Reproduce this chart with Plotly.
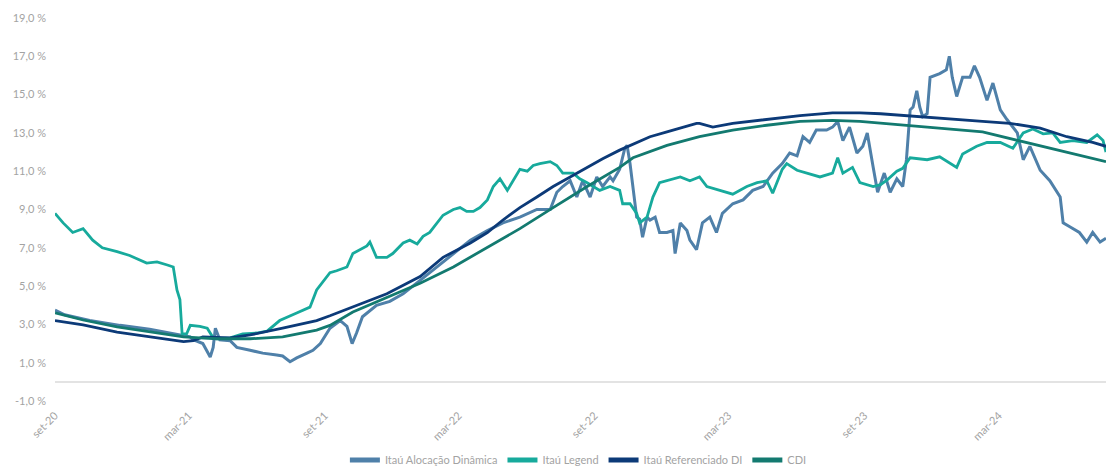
import plotly.graph_objects as go

# ---------------- data (12-month returns, %) ----------------
aloc_dates = ["2020-09-01","2020-09-14","2020-10-18","2020-11-28","2021-01-07","2021-02-10","2021-03-03","2021-03-07",
    "2021-03-20","2021-03-30","2021-04-03","2021-04-06","2021-04-12","2021-04-26","2021-05-05","2021-05-23","2021-06-09",
    "2021-06-28","2021-07-06","2021-07-16","2021-07-25","2021-08-08","2021-08-16","2021-08-26","2021-09-08","2021-09-22",
    "2021-10-01","2021-10-08","2021-10-14","2021-10-22","2021-11-10","2021-11-28","2021-12-16","2022-01-08","2022-01-31",
    "2022-02-22","2022-03-17","2022-04-09","2022-04-30","2022-05-23","2022-06-15","2022-07-03","2022-07-12","2022-07-20",
    "2022-07-30","2022-08-08","2022-08-16","2022-08-26","2022-09-04","2022-09-12","2022-09-22","2022-09-26","2022-10-05",
    "2022-10-12","2022-10-15","2022-10-19","2022-10-23","2022-10-28","2022-11-01","2022-11-05","2022-11-11","2022-11-15",
    "2022-11-22","2022-11-28","2022-12-08","2022-12-16","2022-12-19","2022-12-26","2023-01-04","2023-01-08","2023-01-17",
    "2023-01-25","2023-02-04","2023-02-13","2023-02-21","2023-03-07","2023-03-21","2023-04-03","2023-04-17","2023-04-30",
    "2023-05-13","2023-05-23","2023-06-02","2023-06-10","2023-06-19","2023-06-28","2023-07-12","2023-07-20","2023-07-27",
    "2023-08-03","2023-08-12","2023-08-22","2023-08-30","2023-09-05","2023-09-13","2023-09-19","2023-09-28","2023-10-06",
    "2023-10-15","2023-10-23","2023-10-28","2023-11-02","2023-11-06","2023-11-11","2023-11-15","2023-11-19","2023-11-25",
    "2023-11-29","2023-12-12","2023-12-21","2023-12-25","2023-12-29","2024-01-04","2024-01-12","2024-01-22","2024-01-28",
    "2024-02-04","2024-02-14","2024-02-22","2024-03-03","2024-03-12","2024-03-26","2024-04-03","2024-04-12","2024-04-26",
    "2024-05-09","2024-05-23","2024-05-27","2024-06-05","2024-06-18","2024-06-28","2024-07-06","2024-07-16","2024-07-24"]
aloc_vals = [3.75,3.5,3.2,2.95,2.75,2.5,2.35,2.2,
    2.0,1.3,1.8,2.8,2.2,2.15,1.8,1.65,1.5,
    1.4,1.35,1.05,1.25,1.5,1.65,2.0,2.8,3.2,
    2.9,2.0,2.55,3.4,4.0,4.2,4.6,5.3,6.0,
    6.7,7.4,7.9,8.3,8.6,9.0,9.0,9.9,10.2,
    10.5,9.65,10.5,9.65,10.7,10.2,10.7,10.5,11.1,
    12.2,12.35,11.4,10.0,8.6,8.5,7.55,8.6,8.45,
    8.6,7.8,7.8,7.9,6.7,8.3,7.9,7.4,6.9,
    8.3,8.6,7.8,8.8,9.3,9.5,10.0,10.2,10.9,
    11.4,11.95,11.8,12.8,12.5,13.15,13.15,13.3,13.6,
    12.6,13.3,11.95,12.3,13.0,11.2,9.9,10.9,9.9,
    10.6,10.2,11.6,14.2,14.35,15.2,14.35,13.85,14.0,
    15.9,16.1,16.3,17.0,15.9,14.9,15.9,15.9,16.5,
    15.9,14.7,15.6,14.2,13.7,13.0,11.6,12.3,11.05,
    10.5,9.65,8.3,8.1,7.8,7.3,7.8,7.3,7.5]

legend_dates = ["2020-09-01","2020-09-12","2020-09-25","2020-10-09","2020-10-22","2020-11-04","2020-11-24","2020-12-11",
    "2021-01-03","2021-01-17","2021-01-31","2021-02-08","2021-02-13","2021-02-17","2021-02-20","2021-02-26","2021-03-03",
    "2021-03-16","2021-03-26","2021-04-03","2021-04-08","2021-04-26","2021-05-13","2021-06-01","2021-06-15","2021-07-02",
    "2021-07-25","2021-08-12","2021-08-21","2021-09-08","2021-09-17","2021-10-01","2021-10-09","2021-10-28","2021-11-01",
    "2021-11-10","2021-11-24","2021-12-02","2021-12-16","2021-12-25","2022-01-04","2022-01-12","2022-01-21","2022-01-31",
    "2022-02-08","2022-02-22","2022-03-03","2022-03-12","2022-03-21","2022-03-30","2022-04-09","2022-04-17","2022-04-26",
    "2022-05-06","2022-05-14","2022-05-23","2022-06-02","2022-06-10","2022-06-19","2022-07-03","2022-07-12","2022-07-20",
    "2022-08-03","2022-08-12","2022-08-22","2022-08-30","2022-09-08","2022-09-22","2022-10-05","2022-10-09","2022-10-19",
    "2022-10-28","2022-11-01","2022-11-11","2022-11-19","2022-11-28","2022-12-08","2022-12-26","2023-01-08","2023-01-21",
    "2023-01-31","2023-02-18","2023-03-07","2023-03-26","2023-04-09","2023-04-22","2023-04-30","2023-05-13","2023-05-19",
    "2023-06-02","2023-06-15","2023-07-03","2023-07-20","2023-07-27","2023-08-03","2023-08-16","2023-08-26","2023-09-13",
    "2023-09-23","2023-10-02","2023-10-15","2023-10-23","2023-11-02","2023-11-25","2023-12-12","2024-01-04","2024-01-12",
    "2024-01-31","2024-02-14","2024-03-03","2024-03-20","2024-04-03","2024-04-16","2024-04-30","2024-05-13","2024-05-23",
    "2024-06-09","2024-06-28","2024-07-12","2024-07-20","2024-07-24"]
legend_vals = [8.8,8.3,7.8,8.0,7.4,7.0,6.8,6.6,
    6.2,6.26,6.1,6.0,4.8,4.3,2.5,2.5,2.95,
    2.9,2.8,2.3,2.25,2.3,2.5,2.55,2.65,3.2,
    3.6,3.9,4.8,5.7,5.8,6.0,6.7,7.1,7.3,
    6.5,6.5,6.7,7.25,7.4,7.2,7.6,7.8,8.3,
    8.7,9.0,9.1,8.9,8.9,9.1,9.5,10.2,10.6,
    10.0,10.5,11.1,11.0,11.3,11.4,11.5,11.3,10.9,
    10.9,10.6,10.4,10.2,10.0,10.2,10.0,9.3,9.3,
    8.8,8.3,8.6,9.65,10.4,10.5,10.7,10.5,10.7,
    10.2,10.0,9.8,10.2,10.4,10.5,9.85,11.1,11.4,
    11.05,10.9,10.7,10.9,11.7,10.9,11.2,10.4,10.2,
    10.3,10.55,11.0,11.15,11.7,11.6,11.75,11.2,11.9,
    12.3,12.5,12.5,12.2,13.0,13.2,12.95,13.0,12.5,
    12.6,12.5,12.9,12.6,12.0]

refdi_dates = ["2020-09-01","2020-10-09","2020-11-24","2021-01-07","2021-02-22","2021-03-07","2021-03-20","2021-04-26",
    "2021-05-23","2021-07-06","2021-08-21","2021-09-08","2021-10-09","2021-11-24","2022-01-08","2022-02-08","2022-03-17",
    "2022-04-09","2022-04-30","2022-05-23","2022-06-15","2022-07-07","2022-07-30","2022-08-22","2022-09-12","2022-10-05",
    "2022-10-23","2022-11-15","2022-12-08","2023-01-17","2023-01-21","2023-02-08","2023-03-07","2023-04-22","2023-06-06",
    "2023-07-20","2023-08-26","2023-09-23","2023-11-25","2024-02-08","2024-03-16","2024-04-26","2024-06-01","2024-07-06",
    "2024-07-24"]
refdi_vals = [3.2,2.97,2.6,2.35,2.1,2.15,2.35,2.3,
    2.45,2.8,3.2,3.45,3.9,4.6,5.5,6.5,7.25,
    7.8,8.45,9.1,9.65,10.2,10.7,11.2,11.65,12.1,
    12.4,12.8,13.05,13.5,13.5,13.3,13.5,13.7,13.9,
    14.05,14.05,14.0,13.8,13.6,13.5,13.25,12.8,12.5,
    12.3]

cdi_dates = ["2020-09-01","2020-10-09","2020-11-24","2021-01-07","2021-02-22","2021-03-16","2021-04-08","2021-05-23",
    "2021-07-06","2021-08-21","2021-09-08","2021-10-09","2021-11-24","2022-01-08","2022-02-22","2022-04-09","2022-05-23",
    "2022-07-07","2022-08-22","2022-10-05","2022-10-23","2022-12-08","2023-01-21","2023-03-07","2023-04-22","2023-06-06",
    "2023-07-20","2023-08-26","2023-09-23","2023-11-25","2024-02-08","2024-04-08","2024-05-23","2024-07-24"]
cdi_vals = [3.6,3.23,2.87,2.6,2.35,2.3,2.25,2.25,
    2.35,2.7,2.95,3.65,4.4,5.15,6.0,7.0,8.0,
    9.1,10.2,11.2,11.7,12.35,12.8,13.15,13.4,13.6,
    13.65,13.6,13.5,13.3,13.05,12.5,12.1,11.5]

series_names = ["Itaú Alocação Dinâmica", "Itaú Legend", "Itaú Referenciado DI", "CDI"]

x_tick_dates = ["2020-09-01","2021-03-01","2021-09-01","2022-03-01","2022-09-01","2023-03-01","2023-09-01","2024-03-01"]
x_tick_labels = ["set-20","mar-21","set-21","mar-22","set-22","mar-23","set-23","mar-24"]
y_tick_vals = [-1, 1, 3, 5, 7, 9, 11, 13, 15, 17, 19]
y_tick_labels = ["-1,0 %","1,0 %","3,0 %","5,0 %","7,0 %","9,0 %","11,0 %","13,0 %","15,0 %","17,0 %","19,0 %"]

# ---------------- figure ----------------
colors = ["#4f80a9", "#17aa9c", "#0c3a78", "#137a70"]
widths = [3, 2.8, 2.8, 2.8]
data = [(aloc_dates, aloc_vals), (legend_dates, legend_vals), (refdi_dates, refdi_vals), (cdi_dates, cdi_vals)]

fig = go.Figure()
for (xs, ys), name, c, w in zip(data, series_names, colors, widths):
    fig.add_trace(go.Scatter(x=xs, y=ys, name=name, mode="lines",
                             line=dict(color=c, width=w), hoverinfo="skip"))

font_color = "#a3a3a3"
fig.update_layout(
    width=1106, height=480,
    margin=dict(l=55, r=0, t=18, b=79),
    paper_bgcolor="white", plot_bgcolor="white",
    font=dict(family="Lato", color=font_color, size=11),
    showlegend=True,
    legend=dict(orientation="h", x=0.498, xanchor="center", y=-0.154, yanchor="middle",
                font=dict(size=11, color=font_color), itemwidth=30, tracegroupgap=0,
                itemsizing="constant"),
)
fig.update_xaxes(
    type="date", range=["2020-09-01", "2024-07-24"],
    tickvals=x_tick_dates, ticktext=x_tick_labels, tickangle=-45,
    showgrid=False, zeroline=False, showline=False, ticks="",
    ticklabelstandoff=5, automargin=False,
    tickfont=dict(size=11, color=font_color),
)
fig.update_yaxes(
    range=[-1, 19], tickvals=y_tick_vals, ticktext=y_tick_labels,
    showgrid=False, zeroline=True, zerolinecolor="#e3e3e3", zerolinewidth=2,
    showline=False, ticks="", ticklabelstandoff=8, automargin=False,
    tickfont=dict(size=11, color=font_color),
)

fig.write_html("out.html", config={"displayModeBar": False},
               post_script="document.body.style.margin='0px';document.body.style.overflow='hidden';document.documentElement.style.overflow='hidden';")
